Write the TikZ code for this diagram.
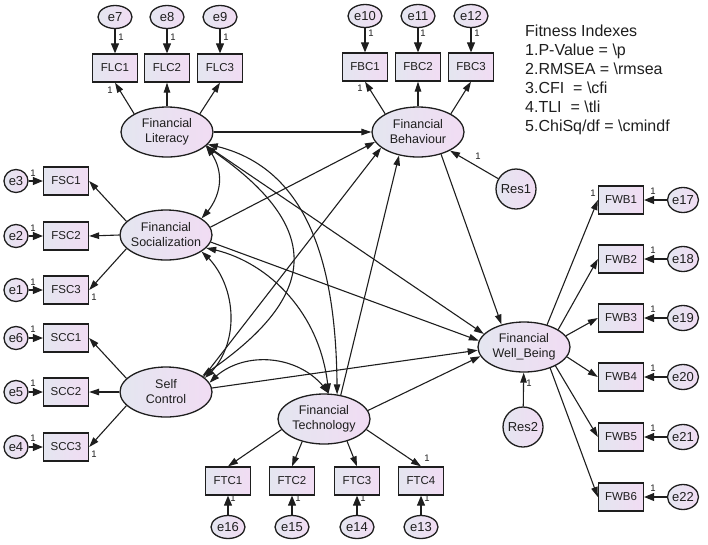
\documentclass[tikz,border=0pt]{standalone}
\usepackage{fontspec}
\setmainfont{Liberation Sans}
\usetikzlibrary{arrows.meta,shapes.geometric,bending}
\definecolor{lft}{RGB}{228,230,240}
\definecolor{rgt}{RGB}{241,220,243}
\definecolor{ink}{RGB}{30,30,30}
\begin{document}
\begin{tikzpicture}[x=1pt,y=-1pt,
  tip/.tip={Triangle[length=10pt,width=6.5pt]},
  shadefill/.style={draw=ink, line width=1.3pt, left color=lft, right color=rgt, text=ink},
  latent/.style={shadefill, ellipse, minimum width=92pt, minimum height=50pt, inner sep=-10pt, align=center, font=\fontsize{12.5}{15}\selectfont},
  obs/.style={shadefill, rectangle, minimum width=45pt, minimum height=28pt, inner sep=0pt, font=\fontsize{11.5}{13}\selectfont},
  err/.style={shadefill, ellipse, minimum width=34pt, minimum height=23pt, inner sep=0pt, font=\fontsize{13}{15}\selectfont},
  errl/.style={err, minimum width=24pt, minimum height=23pt},
  errr/.style={err, minimum width=31pt, minimum height=25pt},
  resid/.style={shadefill, circle, minimum size=40pt, inner sep=0pt, font=\fontsize{13}{15}\selectfont},
  reg/.style={-tip, draw=ink, line width=1.1pt},
  bigreg/.style={-{Triangle[length=10pt,width=8pt]}, draw=ink, line width=1.1pt},
  cov/.style={tip-tip, draw=ink, line width=1.1pt},
  one/.style={font=\fontsize{9.5}{10}\selectfont, text=ink, inner sep=0pt},
]
\useasboundingbox (0,0) rectangle (708,544);
% latent variables
\node[latent] (FL) at (167,132) {Financial\\Literacy};
\node[latent] (FB) at (418,132) {Financial\\Behaviour};
\node[latent] (FS) at (166,235) {Financial\\Socialization};
\node[latent] (SC) at (166,392) {Self\\Control};
\node[latent] (FT) at (324,419) {Financial\\Technology};
\node[latent] (FW) at (524,347) {Financial\\Well\_Being};
% observed
\node[obs] (FLC1) at (115,68) {FLC1};
\node[obs] (FLC2) at (167,68) {FLC2};
\node[obs] (FLC3) at (220,68) {FLC3};
\node[obs] (FBC1) at (365,67) {FBC1};
\node[obs] (FBC2) at (418,67) {FBC2};
\node[obs] (FBC3) at (471,67) {FBC3};
\node[obs] (FSC1) at (66,181) {FSC1};
\node[obs] (FSC2) at (66,236) {FSC2};
\node[obs] (FSC3) at (66,290) {FSC3};
\node[obs] (SCC1) at (66,338) {SCC1};
\node[obs] (SCC2) at (66,392) {SCC2};
\node[obs] (SCC3) at (66,447) {SCC3};
\node[obs] (FTC1) at (228,481) {FTC1};
\node[obs] (FTC2) at (292,481) {FTC2};
\node[obs] (FTC3) at (357,481) {FTC3};
\node[obs] (FTC4) at (421,481) {FTC4};
\node[obs] (FWB1) at (621,200) {FWB1};
\node[obs] (FWB2) at (621,259) {FWB2};
\node[obs] (FWB3) at (621,318) {FWB3};
\node[obs] (FWB4) at (621,377) {FWB4};
\node[obs] (FWB5) at (621,437) {FWB5};
\node[obs] (FWB6) at (621,497) {FWB6};
% errors
\node[err] (e7) at (115,17) {e7};
\node[err] (e8) at (167,17) {e8};
\node[err] (e9) at (220,17) {e9};
\node[err] (e10) at (365,16) {e10};
\node[err] (e11) at (418,16) {e11};
\node[err] (e12) at (471,16) {e12};
\node[errl] (e3) at (16,181) {e3};
\node[errl] (e2) at (16,236) {e2};
\node[errl] (e1) at (16,290) {e1};
\node[errl] (e6) at (16,338) {e6};
\node[errl] (e5) at (16,392) {e5};
\node[errl] (e4) at (16,447) {e4};
\node[err] (e16) at (228,527) {e16};
\node[err] (e15) at (292,527) {e15};
\node[err] (e14) at (357,527) {e14};
\node[err] (e13) at (421,527) {e13};
\node[errr] (e17) at (683,200) {e17};
\node[errr] (e18) at (683,259) {e18};
\node[errr] (e19) at (683,318) {e19};
\node[errr] (e20) at (683,377) {e20};
\node[errr] (e21) at (683,437) {e21};
\node[errr] (e22) at (683,497) {e22};
\node[resid] (Res1) at (516,189) {Res1};
\node[resid] (Res2) at (523,427) {Res2};
% measurement paths
\draw[reg] (FL.151) -- (FLC1.south);
\draw[reg] (FL.90) -- (FLC2.south);
\draw[reg] (FL.29) -- (FLC3.south);
\draw[reg] (FB.151) -- (FBC1.south);
\draw[reg] (FB.90) -- (FBC2.south);
\draw[reg] (FB.29) -- (FBC3.south);
\draw[reg] (FS.161) -- (FSC1.east);
\draw[reg] (FS.180) -- (FSC2.east);
\draw[reg] (FS.199) -- (FSC3.east);
\draw[reg] (SC.161) -- (SCC1.east);
\draw[reg] (SC.180) -- (SCC2.east);
\draw[reg] (SC.199) -- (SCC3.east);
\draw[reg] (FT.194) -- (FTC1.north);
\draw[reg] (FT.226) -- (FTC2.north);
\draw[reg] (FT.-44) -- (FTC3.north);
\draw[reg] (FT.-14) -- (FTC4.north);
\draw[reg] (FW.44) -- (FWB1.west);
\draw[reg] (FW.27) -- (FWB2.west);
\draw[reg] (FW.15) -- (FWB3.west);
\draw[reg] (FW.-13) -- (FWB4.west);
\draw[reg] (FW.-31) -- (FWB5.west);
\draw[reg] (FW.-39) -- (FWB6.west);
% error paths
\foreach \e/\o in {e7/FLC1,e8/FLC2,e9/FLC3,e10/FBC1,e11/FBC2,e12/FBC3,e3/FSC1,e2/FSC2,e1/FSC3,e6/SCC1,e5/SCC2,e4/SCC3,e16/FTC1,e15/FTC2,e14/FTC3,e13/FTC4,e17/FWB1,e18/FWB2,e19/FWB3,e20/FWB4,e21/FWB5,e22/FWB6}
  \draw[bigreg] (\e) -- (\o);
\draw[reg] (Res1) -- (FB);
\draw[reg] (Res2) -- (FW);
% structural paths
\draw[reg] (FL) -- (FB);
\draw[reg] (FS.10) -- (FB.193);
\draw[reg] (SC.22) -- (FB.203);
\draw[reg] (FT.55) -- (FB.231);
\draw[reg] (FB.-44) -- (FW.135);
\draw[reg] (FL.-19) -- (FW.162);
\draw[reg] (FS.-9) -- (FW.172);
\draw[reg] (SC.5) -- (FW.184);
\draw[reg] (FT.11) -- (FW.192);
% covariances
\draw[cov] (FL.-20) .. controls +(20,22) and +(22,-22) .. (FS.25);
\draw[cov] (FL.-20) .. controls +(120,80) and +(120,-80) .. (SC.24);
\draw[cov] (FL.-17) .. controls +(110,20) and +(0,-110) .. (FT.62);
\draw[cov] (FS.-25) .. controls +(37,30) and +(37,-30) .. (SC.20);
\draw[cov] (FS.-18) .. controls +(60,10) and +(-5,-80) .. (FT.80);
\draw[cov] (SC.12) .. controls +(30,-35) and +(-25,-40) .. (FT.80);
% weights
\node[one] (w1) at (110,90) {1};
\node[one] (w2) at (121,37) {1};
\node[one] (w3) at (173,37) {1};
\node[one] (w4) at (226,37) {1};
\node[one] (w5) at (360,88) {1};
\node[one] (w6) at (371,33) {1};
\node[one] (w7) at (423,33) {1};
\node[one] (w8) at (477,33) {1};
\node[one] (w9) at (33,173) {1};
\node[one] (w10) at (33,228) {1};
\node[one] (w11) at (33,282) {1};
\node[one] (w12) at (94,297) {1};
\node[one] (w13) at (33,329) {1};
\node[one] (w14) at (33,383) {1};
\node[one] (w15) at (33,438) {1};
\node[one] (w16) at (94,454) {1};
\node[one] (w17) at (233,498) {1};
\node[one] (w18) at (298,498) {1};
\node[one] (w19) at (363,498) {1};
\node[one] (w20) at (427,498) {1};
\node[one] (w21) at (427,458) {1};
\node[one] (w22) at (593,193) {1};
\node[one] (w23) at (653,191) {1};
\node[one] (w24) at (653,250) {1};
\node[one] (w25) at (653,309) {1};
\node[one] (w26) at (653,368) {1};
\node[one] (w27) at (653,428) {1};
\node[one] (w28) at (653,488) {1};
\node[one] (w29) at (478,156) {1};
\node[one] (w30) at (529,383) {1};
% fitness indexes
\node[anchor=base west, inner sep=0pt, align=left, text=ink, font=\fontsize{16}{19}\selectfont] (fit) at (525,131)
  {Fitness Indexes\\1.P-Value = \textbackslash p\\2.RMSEA = \textbackslash rmsea\\3.CFI ~= \textbackslash cfi\\4.TLI ~= \textbackslash tli\\5.ChiSq/df = \textbackslash cmindf};
\end{tikzpicture}
\end{document}
